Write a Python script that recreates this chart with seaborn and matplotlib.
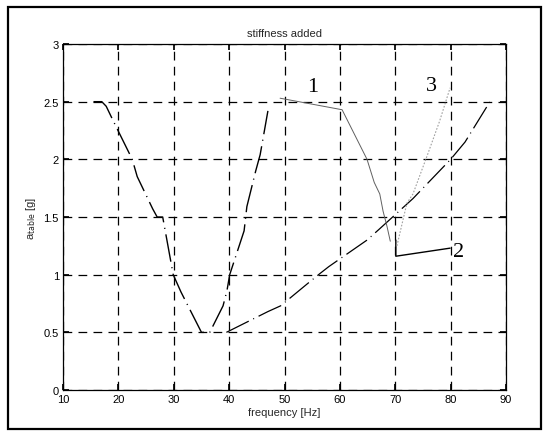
import matplotlib
matplotlib.use("Agg")
import matplotlib.pyplot as plt
from matplotlib.patches import Rectangle
import seaborn as sns
import pandas as pd

# Resonance sweep: left V-shaped branch (dash-dot)
freq_v = [15.5, 17.0, 17.8, 19.0, 22.5, 23.4, 26.2, 27.0, 28.0, 29.9, 31.3, 35.0,
          36.5, 38.9, 39.6, 40.1, 42.7, 43.2, 44.8, 45.6, 47.0]
acc_v = [2.5, 2.5, 2.46, 2.34, 2.0, 1.85, 1.57, 1.5, 1.5, 1.0, 0.85, 0.5,
         0.5, 0.73, 0.86, 1.0, 1.38, 1.59, 1.9, 2.04, 2.42]

# Rising branch (dash-dot)
freq_r = [39.5, 47.0, 49.3, 54.6, 56.4, 58.0, 64.9, 67.0, 73.2, 75.0, 80.0, 82.6, 87.1]
acc_r = [0.5, 0.68, 0.73, 0.94, 1.01, 1.07, 1.30, 1.39, 1.66, 1.75, 2.0, 2.15, 2.5]

# Curve 1 (thin grey)
freq_1 = [49.2, 60.4, 64.9, 66.2, 67.2, 67.8, 68.5, 69.1]
acc_1 = [2.53, 2.43, 2.0, 1.8, 1.70, 1.55, 1.42, 1.29]

# Curve 2 (solid)
freq_2 = [70.1, 70.1, 79.9]
acc_2 = [1.30, 1.16, 1.23]

# Curve 3 (light grey dotted)
freq_3 = [70.3, 72.1, 73.2, 75.9, 78.0, 79.9]
acc_3 = [1.25, 1.62, 1.70, 2.05, 2.33, 2.62]

curve_labels = ["1", "2", "3"]
label_x = [55.0, 81.4, 76.6]
label_y = [2.63, 1.20, 2.64]

x_ticks = [10, 20, 30, 40, 50, 60, 70, 80, 90]
y_ticks = [0, 0.5, 1, 1.5, 2, 2.5, 3]
y_ticklabels = ["0", "0.5", "1", "1.5", "2", "2.5", "3"]

sns.set_theme(style="white")
plt.rcParams["font.family"] = ["Liberation Sans", "DejaVu Sans"]

fig = plt.figure(figsize=(5.49, 4.39), dpi=100)
ax = fig.add_axes([0.1148, 0.1093, 0.8069, 0.7882])

# outer frame around the whole figure
fig.patches.append(Rectangle((0.015, 0.02), 0.97, 0.962, transform=fig.transFigure,
                             fill=False, edgecolor="black", linewidth=1.6))

df_v = pd.DataFrame({"f": freq_v, "a": acc_v})
df_r = pd.DataFrame({"f": freq_r, "a": acc_r})
df_1 = pd.DataFrame({"f": freq_1, "a": acc_1})
df_2 = pd.DataFrame({"f": freq_2, "a": acc_2})
df_3 = pd.DataFrame({"f": freq_3, "a": acc_3})

dashdot = (20, 4, 0.8, 4)
sns.lineplot(data=df_v, x="f", y="a", sort=False, estimator=None, ax=ax,
             color="black", linewidth=1.0)
ax.lines[-1].set_dashes(dashdot)
sns.lineplot(data=df_r, x="f", y="a", sort=False, estimator=None, ax=ax,
             color="black", linewidth=0.9)
ax.lines[-1].set_dashes(dashdot)
sns.lineplot(data=df_1, x="f", y="a", sort=False, estimator=None, ax=ax,
             color="#606060", linewidth=0.7)
sns.lineplot(data=df_2, x="f", y="a", sort=False, estimator=None, ax=ax,
             color="black", linewidth=1.0)
sns.lineplot(data=df_3, x="f", y="a", sort=False, estimator=None, ax=ax,
             color="#a0a0a0", linewidth=0.8)
ax.lines[-1].set_dashes((1.5, 1.5))

for txt, lx, ly in zip(curve_labels, label_x, label_y):
    ax.text(lx, ly, txt, fontsize=16, family="Liberation Serif",
            ha="center", va="center", color="black")

ax.set_xlim(10, 90)
ax.set_ylim(0, 3)
ax.set_xticks(x_ticks)
ax.set_yticks(y_ticks)
ax.set_yticklabels(y_ticklabels)
ax.grid(True, color="black", linestyle=(0, (7, 5)), linewidth=0.9)
ax.tick_params(direction="in", length=4, labelsize=8, colors="black",
               top=True, right=True, bottom=True, left=True, pad=3)
for sp in ax.spines.values():
    sp.set_color("black")
    sp.set_linewidth(0.9)

ax.set_title("stiffness added", fontsize=8, pad=6)
ax.set_xlabel("frequency [Hz]", fontsize=8, labelpad=2)
ax.set_ylabel(r"a$_{\mathrm{table}}$ [g]", fontsize=8, labelpad=4)

fig.savefig("out.png", dpi=100, facecolor="white")
